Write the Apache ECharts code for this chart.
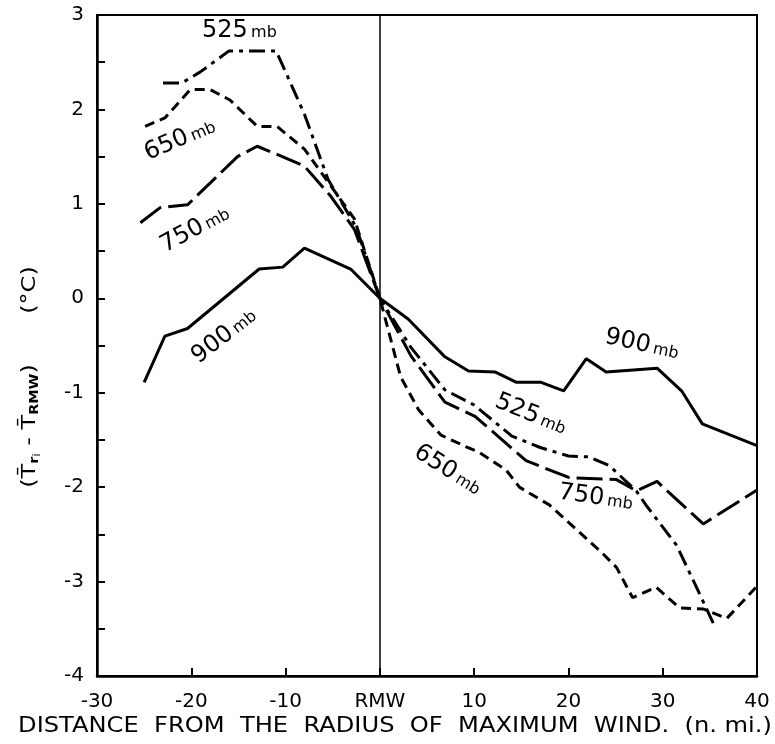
<!DOCTYPE html>
<html>
<head>
<meta charset="utf-8">
<script src="https://cdn.jsdelivr.net/npm/echarts@6/dist/echarts.min.js"></script>
<style>
html,body{margin:0;padding:0;background:#fff;}
#c{width:775px;height:744px;}
</style>
</head>
<body>
<div id="c"></div>
<script>
// ---- data ----
const x525 = [-23, -21, -19, -16, -11, -8, -5.5, -2.5, 0, 3.3, 6.9, 10, 14, 17, 20, 22.2, 24.3, 27.2, 28.3, 31.5, 34, 35.4];
const y525 = [2.28, 2.28, 2.4, 2.62, 2.62, 1.95, 1.26, 0.75, 0, -0.52, -0.97, -1.13, -1.46, -1.58, -1.67, -1.68, -1.77, -2.04, -2.2, -2.62, -3.15, -3.45];

const x650 = [-24.9, -22.8, -20.1, -18, -15.9, -13, -10.9, -8, -5.2, -2.7, 0, 2.2, 4.1, 6.5, 9.1, 10.5, 13.4, 14.8, 18, 20.1, 23.6, 25.1, 26.8, 29.3, 31.8, 34.3, 36.8, 40];
const y650 = [1.82, 1.91, 2.21, 2.21, 2.1, 1.82, 1.82, 1.58, 1.19, 0.84, 0, -0.83, -1.18, -1.45, -1.57, -1.63, -1.82, -2.0, -2.19, -2.38, -2.70, -2.85, -3.17, -3.06, -3.28, -3.29, -3.39, -3.05];

const x750 = [-25.4, -23.3, -20.4, -15.1, -13, -10.1, -8, -5.2, -2.7, 0, 3.3, 6.9, 10.1, 15.5, 20.1, 25.1, 27.2, 29.4, 34.3, 40];
const y750 = [0.80, 0.96, 0.99, 1.50, 1.61, 1.49, 1.40, 1.08, 0.73, 0, -0.61, -1.10, -1.25, -1.72, -1.90, -1.92, -2.04, -1.94, -2.39, -2.03];

const x900 = [-25, -22.8, -20.4, -12.8, -10.3, -8, -3.1, 0, 3, 6.9, 9.4, 12.2, 14.5, 17.1, 19.5, 21.9, 24, 29.4, 32, 34.2, 40];
const y900 = [-0.89, -0.40, -0.32, 0.31, 0.33, 0.53, 0.31, 0, -0.22, -0.62, -0.77, -0.78, -0.89, -0.89, -0.98, -0.64, -0.78, -0.74, -0.98, -1.33, -1.56];

// curve labels
const labelText = ['525', '650', '750', '900', '900', '525', '650', '750'];
const labelX = [-14.9, -21.2, -19.6, -16.5, 27.8, 16.0, 7.2, 22.9];
const labelY = [2.83, 1.68, 0.73, -0.40, -0.49, -1.23, -1.82, -2.11];
const labelRot = [0, 23, 28, 38, -12, -22, -32, -8];

const xTicks = [-30, -20, -10, 0, 10, 20, 30, 40];
const xTickLabels = ['-30', '-20', '-10', 'RMW', '10', '20', '30', '40'];

const FONT = 'DejaVu Sans';
function pairs(xs, ys) { return xs.map((x, i) => [x, ys[i]]); }

const chart = echarts.init(document.getElementById('c'), null, {renderer: 'canvas'});

const lineBase = {type: 'line', symbol: 'none', smooth: false, animation: false, z: 3};

chart.setOption({
  backgroundColor: '#fff',
  animation: false,
  grid: {left: 97, right: 18, top: 15, bottom: 68, show: true, borderColor: '#000', borderWidth: 2},
  xAxis: {
    type: 'value', min: -30, max: 40, interval: 10,
    axisLine: {show: true, onZero: false, lineStyle: {color: '#000', width: 2.5}},
    axisTick: {show: true, inside: true, length: 8, lineStyle: {color: '#000', width: 2}},
    splitLine: {show: false},
    axisLabel: {
      color: '#000', fontFamily: FONT, fontSize: 20, margin: 16,
      formatter: function (v) { const i = xTicks.indexOf(v); return i >= 0 ? xTickLabels[i] : ''; }
    }
  },
  yAxis: {
    type: 'value', min: -4, max: 3, interval: 0.5,
    axisLine: {show: true, onZero: false, lineStyle: {color: '#000', width: 2.5}},
    axisTick: {show: true, inside: true, length: 8, lineStyle: {color: '#000', width: 2}},
    splitLine: {show: false},
    axisLabel: {
      color: '#000', fontFamily: FONT, fontSize: 20, margin: 13,
      formatter: function (v) { return Number.isInteger(v) ? String(v) : ''; }
    }
  },
  series: [
    Object.assign({}, lineBase, {name: '525 mb', data: pairs(x525, y525),
      lineStyle: {color: '#000', width: 3, type: [16, 6, 4, 6]},
      markLine: {silent: true, symbol: 'none', label: {show: false},
        lineStyle: {color: '#000', width: 1.5, type: 'solid'}, data: [{xAxis: 0}]}}),
    Object.assign({}, lineBase, {name: '650 mb', data: pairs(x650, y650),
      lineStyle: {color: '#000', width: 3, type: [10, 6]}}),
    Object.assign({}, lineBase, {name: '750 mb', data: pairs(x750, y750),
      lineStyle: {color: '#000', width: 3, type: [26, 7]}}),
    Object.assign({}, lineBase, {name: '900 mb', data: pairs(x900, y900),
      lineStyle: {color: '#000', width: 3, type: 'solid'}})
  ]
});

// curve labels and axis titles as graphic text
const g = [];
for (let i = 0; i < labelText.length; i++) {
  const p = chart.convertToPixel({gridIndex: 0}, [labelX[i], labelY[i]]);
  g.push({
    type: 'text', x: p[0], y: p[1], rotation: labelRot[i] * Math.PI / 180, z: 10,
    style: {
      text: '{n|' + labelText[i] + '} {m|mb}', x: 0, y: 0,
      align: 'center', verticalAlign: 'middle', textAlign: 'center', textVerticalAlign: 'middle',
      rich: {
        n: {fontSize: 24, fontFamily: FONT, fill: '#000', color: '#000'},
        m: {fontSize: 16, fontFamily: FONT, fill: '#000', color: '#000', padding: [4, 0, 0, 0]}
      }
    }
  });
}
// x-axis title
g.push({
  type: 'text', x: 395, y: 727, scaleX: 1.15, z: 10,
  style: {
    text: 'DISTANCE  FROM  THE  RADIUS  OF  MAXIMUM  WIND.  (n. mi.)',
    x: 0, y: 0, align: 'center', verticalAlign: 'middle', textAlign: 'center', textVerticalAlign: 'middle',
    fontSize: 21, fontFamily: FONT, fill: '#000'
  }
});
// y-axis title: main part and unit
g.push({
  type: 'text', x: 30, y: 426, rotation: Math.PI / 2, scaleX: 1.2, z: 10,
  style: {
    text: '{a|(T\u0304}{s|r}{t|i}{a| - T\u0304}{s|RMW}{a|)}',
    x: 0, y: 0, align: 'center', verticalAlign: 'middle', textAlign: 'center', textVerticalAlign: 'middle',
    rich: {
      a: {fontSize: 20, fontFamily: FONT, fill: '#000', color: '#000'},
      s: {fontSize: 12, fontFamily: FONT, fontWeight: 'bold', fill: '#000', color: '#000', padding: [10, 0, 0, 0]},
      t: {fontSize: 10, fontFamily: FONT, fill: '#000', color: '#000', padding: [14, 0, 0, 0]}
    }
  }
});
g.push({
  type: 'text', x: 30, y: 290, rotation: Math.PI / 2, scaleX: 1.2, z: 10,
  style: {
    text: '(°C)', x: 0, y: 0, align: 'center', verticalAlign: 'middle', textAlign: 'center', textVerticalAlign: 'middle',
    fontSize: 20, fontFamily: FONT, fill: '#000'
  }
});
chart.setOption({graphic: g});
</script>
</body>
</html>
